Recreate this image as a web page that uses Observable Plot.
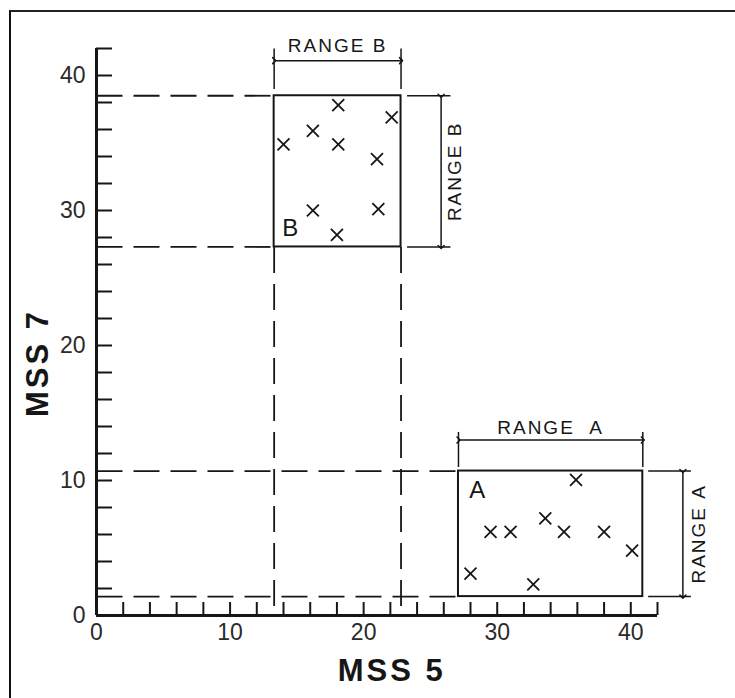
<!DOCTYPE html>
<html><head><meta charset="utf-8">
<script src="https://cdn.jsdelivr.net/npm/d3@7"></script>
<script src="https://cdn.jsdelivr.net/npm/@observablehq/plot@0.6"></script>
<style>
html,body{margin:0;padding:0;background:#fff;}
#wrap{position:relative;width:735px;height:698px;overflow:hidden;background:#fff;}
#frame{position:absolute;left:9px;top:10px;width:760px;height:720px;border-left:2px solid #111;border-top:2px solid #222;pointer-events:none;}
svg{display:block;}
</style></head><body>
<div id="wrap"><div id="frame"></div></div>
<script>
// ---- data ----
const xLabelTicks = [0, 10, 20, 30, 40];
const yLabelTicks = [0, 10, 20, 30, 40];
const xMinorTicks = [2, 4, 6, 8, 10, 12, 14, 16, 18, 20, 22, 24, 26, 28, 30, 32, 34, 36, 38, 40, 42];
const yMinorTicks = [2, 4, 6, 8, 10, 12, 14, 16, 18, 20, 22, 24, 26, 28, 30, 32, 34, 36, 38, 40, 42];
const axisMax = [42];

// class A samples (MSS 5, MSS 7)
const mss5A = [28.0, 29.5, 31.0, 32.7, 33.6, 35.0, 35.9, 38.0, 40.1];
const mss7A = [3.1, 6.2, 6.2, 2.3, 7.2, 6.2, 10.05, 6.2, 4.8];
// class B samples
const mss5B = [14.0, 16.2, 18.1, 18.1, 22.1, 21.0, 16.2, 21.1, 18.0];
const mss7B = [34.9, 35.9, 37.8, 34.9, 36.9, 33.8, 30.0, 30.1, 28.2];

// ranges (boxes)
const rangeA_mss5 = [27.1, 40.9];
const rangeA_mss7 = [1.4, 10.7];
const rangeB_mss5 = [13.3, 22.8];
const rangeB_mss7 = [27.3, 38.5];

const boxLabels = ["A", "B"];
const boxLabelX = [28.5, 14.5];
const boxLabelY = [9.3, 28.7];

// axis titles
const axisTitles = ["MSS 5", "MSS 7"];
const axisTitleX = [22.1, -4.4];
const axisTitleY = [-4.1, 18.7];

// range annotation placement (data units)
const arrowB_y = 41.1, arrowB_x = 25.8, extB_top = 42, extB_right = 26.5;
const arrowA_y = 13.0, arrowA_x = 43.9, extA_top = 13.6, extA_right = 44.5;
const labelB_y = 42.2, labelB_x = 26.8, labelA_y = 13.9, labelA_x = 45.1;

// ---- build ----
const ink = "#161616";
const font = "'Liberation Sans', Arial, Helvetica, sans-serif";
const dash = "26,11";
const mid = a => (a[0] + a[1]) / 2;

const pointsA = mss5A.map((x, i) => ({mss5: x, mss7: mss7A[i]}));
const pointsB = mss5B.map((x, i) => ({mss5: x, mss7: mss7B[i]}));
const boxes = [
  {x1: rangeA_mss5[0], x2: rangeA_mss5[1], y1: rangeA_mss7[0], y2: rangeA_mss7[1]},
  {x1: rangeB_mss5[0], x2: rangeB_mss5[1], y1: rangeB_mss7[0], y2: rangeB_mss7[1]}
];
const dashed = [
  ...rangeB_mss7.map(y => ({x1: 0, x2: rangeB_mss5[0], y1: y, y2: y})),
  ...rangeA_mss7.map(y => ({x1: 0, x2: rangeA_mss5[0], y1: y, y2: y})),
  ...rangeB_mss5.map(x => ({x1: x, x2: x, y1: rangeB_mss7[0], y2: 0}))
];
const extensions = [
  ...rangeB_mss5.map(x => ({x1: x, x2: x, y1: rangeB_mss7[1] + 0.5, y2: extB_top})),
  ...rangeB_mss7.map(y => ({x1: rangeB_mss5[1] + 0.45, x2: extB_right, y1: y, y2: y})),
  ...rangeA_mss5.map(x => ({x1: x, x2: x, y1: rangeA_mss7[1] + 0.3, y2: extA_top})),
  ...rangeA_mss7.map(y => ({x1: rangeA_mss5[1] + 0.4, x2: extA_right, y1: y, y2: y}))
];
const arrows = [
  {x1: rangeB_mss5[0], x2: rangeB_mss5[1], y1: arrowB_y, y2: arrowB_y},
  {x1: arrowB_x, x2: arrowB_x, y1: rangeB_mss7[1], y2: rangeB_mss7[0]},
  {x1: rangeA_mss5[0], x2: rangeA_mss5[1], y1: arrowA_y, y2: arrowA_y},
  {x1: arrowA_x, x2: arrowA_x, y1: rangeA_mss7[1], y2: rangeA_mss7[0]}
];
const rangeLabels = [
  {x: mid(rangeB_mss5), y: labelB_y, text: "RANGE\u00a0B", rotate: 0},
  {x: labelB_x, y: mid(rangeB_mss7), text: "RANGE\u00a0B", rotate: -90},
  {x: mid(rangeA_mss5), y: labelA_y, text: "RANGE\u00a0\u00a0A", rotate: 0},
  {x: labelA_x, y: mid(rangeA_mss7), text: "RANGE\u00a0A", rotate: -90}
];
const boxText = boxLabels.map((t, i) => ({t, x: boxLabelX[i], y: boxLabelY[i]}));
const titles = axisTitles.map((t, i) => ({t, x: axisTitleX[i], y: axisTitleY[i], rotate: i === 1 ? -90 : 0}));

const chart = Plot.plot({
  width: 735,
  height: 698,
  marginLeft: 96,
  marginRight: 78,
  marginTop: 48,
  marginBottom: 83,
  style: {background: "#fff", fontFamily: font, overflow: "visible", color: ink},
  x: {domain: [0, 42], label: null},
  y: {domain: [0, 42], label: null},
  marks: [
    // dashed guides
    Plot.link(dashed, {x1: "x1", y1: "y1", x2: "x2", y2: "y2", stroke: ink, strokeWidth: 1.8, strokeDasharray: dash}),
    // extension lines
    Plot.link(extensions, {x1: "x1", y1: "y1", x2: "x2", y2: "y2", stroke: ink, strokeWidth: 1.5}),
    // range boxes
    Plot.rect(boxes, {x1: "x1", x2: "x2", y1: "y1", y2: "y2", fill: "none", stroke: ink, strokeWidth: 2}),
    // range arrows
    Plot.link(arrows, {x1: "x1", y1: "y1", x2: "x2", y2: "y2", stroke: ink, strokeWidth: 1.5, markerStart: "arrow", markerEnd: "arrow"}),
    // samples
    Plot.dot(pointsA, {x: "mss5", y: "mss7", symbol: "times", r: 5.5, stroke: ink, strokeWidth: 1.8}),
    Plot.dot(pointsB, {x: "mss5", y: "mss7", symbol: "times", r: 5.5, stroke: ink, strokeWidth: 1.8}),
    // labels
    Plot.text(rangeLabels, {x: "x", y: "y", text: "text", rotate: "rotate", fontSize: 19, fill: ink}),
    Plot.text(boxText, {x: "x", y: "y", text: "t", fontSize: 24, fill: ink}),
    // axes lines
    Plot.ruleX([0], {y1: 0, y2: axisMax[0], stroke: ink, strokeWidth: 3}),
    Plot.ruleY([0], {x1: 0, x2: axisMax[0], stroke: ink, strokeWidth: 3}),
    // inward minor ticks
    Plot.axisY({ticks: yMinorTicks, tickSize: 16, dx: 16, tickFormat: () => "", strokeWidth: 2, color: ink, label: null}),
    Plot.axisX({ticks: xMinorTicks, tickSize: 13, dy: -13, tickFormat: () => "", strokeWidth: 2, color: ink, label: null}),
    // tick labels
    Plot.axisY({ticks: yLabelTicks, tickSize: 0, tickPadding: 11, fontSize: 23, color: "#2a2a2a", label: null}),
    Plot.axisX({ticks: xLabelTicks, tickSize: 0, tickPadding: 8, fontSize: 23, color: "#2a2a2a", label: null}),
    // axis titles
    Plot.text(titles, {x: "x", y: "y", text: "t", rotate: "rotate", lineAnchor: "middle", fontSize: 31, fontWeight: "bold", fill: ink})
  ]
});

d3.select(chart).selectAll("text").each(function() {
  const t = this.textContent;
  if (t.startsWith("RANGE")) d3.select(this).style("letter-spacing", "2px");
  if (t.startsWith("MSS")) d3.select(this).style("letter-spacing", "3px");
});

document.getElementById("wrap").insertBefore(chart, document.getElementById("frame"));
</script>
</body></html>
